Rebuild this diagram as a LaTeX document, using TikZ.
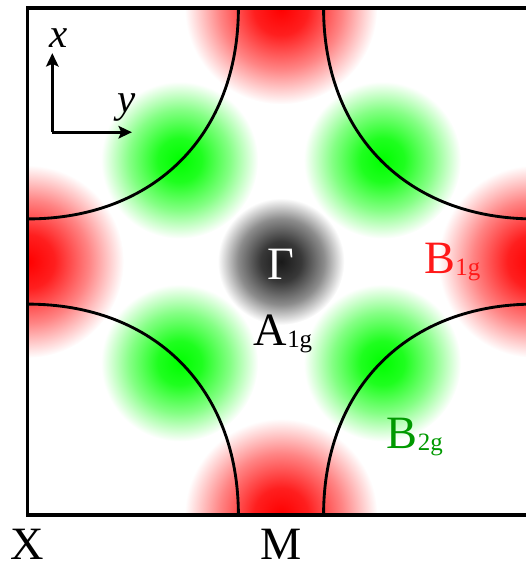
\documentclass[tikz,border=0pt]{standalone}
\usepackage{fontspec}
\setmainfont{Liberation Serif}
\usetikzlibrary{arrows.meta}

% spots, fading to white at the rim of the circle (25bp = rim)
\pgfdeclareradialshading{redspot}{\pgfpoint{0bp}{0bp}}{color(0bp)=(red); color(7bp)=(red!88); color(16bp)=(red!48); color(25bp)=(white); color(50bp)=(white)}
\pgfdeclareradialshading{greenspot}{\pgfpoint{0bp}{0bp}}{color(0bp)=(green); color(7bp)=(green!88); color(16bp)=(green!48); color(25bp)=(white); color(50bp)=(white)}
\pgfdeclareradialshading{grayspot}{\pgfpoint{0bp}{0bp}}{color(0bp)=(black!90); color(8bp)=(black!78); color(17bp)=(black!45); color(25bp)=(white); color(50bp)=(white)}

\newcommand{\lowsub}[1]{\raisebox{-1.5pt}{\fontsize{14}{14}\selectfont #1}}

\begin{document}
\begin{tikzpicture}[
		lbl/.style={font=\fontsize{26}{28}\selectfont, inner sep=0pt, anchor=base},
		axlbl/.style={font=\fontsize{23}{25}\selectfont\itshape, inner sep=0pt, anchor=base},
		fermi/.style={line width=1.6pt},
		axis/.style={line width=1.5pt, -{Stealth[length=7.5pt, width=7pt, inset=1.5pt]}}
		]
		
		\clip (-5.542,-6.045) rectangle (4.832,5.158);
		
		% spots inside the zone
		\begin{scope}
			\clip (-5,-5) rectangle (5,5);
			\foreach \p in {(0,5),(0,-5),(5,0),(-5,0)}
				\shade[shading=redspot] \p circle (1.9);
			\foreach \p in {(-2,2),(2,2),(-2,-2),(2,-2)}
				\shade[shading=greenspot] \p circle (1.55);
			\shade[shading=grayspot] (0,0) circle (1.25);
		\end{scope}
		
		% Fermi surface pieces round the corners
		\foreach \a in {0,90,180,270}
			\draw[fermi, rotate=\a] (-0.84,5) .. controls (-0.84,2.5) and (-2.5,0.84) .. (-5,0.84);
		
		\draw[line width=2pt] (-5,-5) rectangle (5,5);
		
		% axes
		\coordinate (orig) at (-4.51,2.55);
		\coordinate (xtip) at (-4.51,4.11);
		\coordinate (ytip) at (-2.94,2.55);
		\draw[axis] (orig) -- (xtip);
		\draw[axis] (orig) -- (ytip);
		\node (xlab) at (-4.38,4.23) [axlbl] {x};
		\node (ylab) at (-3.04,2.93) [axlbl] {y};
		
		% labels
		\node (gam) at (0,-0.36) [lbl, text=white] {Γ};
		\node (aone) at (0.04,-1.65) [lbl] {A\lowsub{1g}};
		\node (bone) at (3.38,-0.23) [lbl, text=red!90] {B\lowsub{1g}};
		\node (btwo) at (2.64,-3.68) [lbl, text=green!60!black] {B\lowsub{2g}};
		\node (xpt) at (-5,-5.88) [lbl] {X};
		\node (mpt) at (0,-5.88) [lbl] {M};
	\end{tikzpicture}
\end{document}
